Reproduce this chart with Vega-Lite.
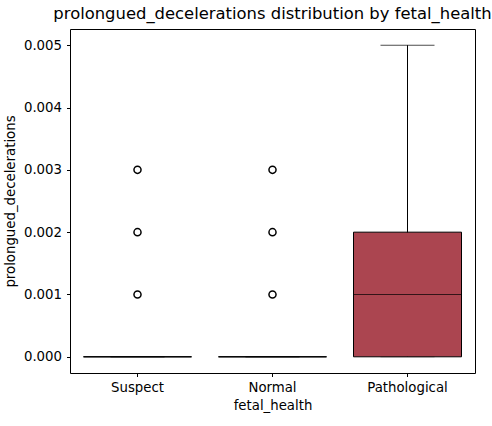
{
  "$schema": "https://vega.github.io/schema/vega-lite/v6.json",
  "width": 405,
  "height": 344,
  "autosize": {"type": "none"},
  "padding": {"left": 70, "top": 29, "right": 17, "bottom": 53},
  "background": "white",
  "title": {
    "text": "prolongued_decelerations distribution by fetal_health",
    "font": "DejaVu Sans",
    "fontSize": 16.4,
    "fontWeight": "normal",
    "color": "black",
    "anchor": "middle",
    "offset": 7
  },
  "config": {
    "view": {"stroke": "black", "strokeWidth": 1},
    "axis": {
      "labelFont": "DejaVu Sans",
      "labelFontSize": 13.3,
      "labelColor": "black",
      "titleFont": "DejaVu Sans",
      "titleFontSize": 13.3,
      "titleFontWeight": "normal",
      "titleColor": "black",
      "tickColor": "black",
      "tickSize": 3.5,
      "domain": false,
      "grid": false
    }
  },
  "datasets": {
    "stats": [
      {"fetal_health": "Suspect", "lower": 0, "q1": 0, "median": 0, "q3": 0, "upper": 0},
      {"fetal_health": "Normal", "lower": 0, "q1": 0, "median": 0, "q3": 0, "upper": 0},
      {"fetal_health": "Pathological", "lower": 0, "q1": 0, "median": 0.001, "q3": 0.002, "upper": 0.005}
    ],
    "outliers": [
      {"fetal_health": "Suspect", "value": 0.001},
      {"fetal_health": "Suspect", "value": 0.002},
      {"fetal_health": "Suspect", "value": 0.003},
      {"fetal_health": "Normal", "value": 0.001},
      {"fetal_health": "Normal", "value": 0.002},
      {"fetal_health": "Normal", "value": 0.003}
    ]
  },
  "layer": [
    {
      "data": {"name": "stats"},
      "mark": {"type": "rule", "color": "black", "strokeWidth": 1},
      "encoding": {
        "x": {"field": "fetal_health", "type": "nominal", "sort": ["Suspect", "Normal", "Pathological"],
              "scale": {"paddingInner": 0, "paddingOuter": 0},
              "axis": {"labelAngle": 0, "title": "fetal_health", "titlePadding": 5, "labelPadding": 3.5}},
        "y": {"field": "lower", "type": "quantitative",
              "scale": {"domain": [-0.00026, 0.00526], "nice": false, "zero": false},
              "axis": {"values": [0, 0.001, 0.002, 0.003, 0.004, 0.005], "format": ".3f", "title": "prolongued_decelerations", "titlePadding": 6, "labelPadding": 5}},
        "y2": {"field": "upper"}
      }
    },
    {
      "data": {"name": "stats"},
      "mark": {"type": "tick", "color": "black", "size": 54, "thickness": 1},
      "encoding": {
        "x": {"field": "fetal_health", "type": "nominal", "sort": ["Suspect", "Normal", "Pathological"]},
        "y": {"field": "upper", "type": "quantitative"}
      }
    },
    {
      "data": {"name": "stats"},
      "mark": {"type": "tick", "color": "#555555", "size": 54, "thickness": 1},
      "encoding": {
        "x": {"field": "fetal_health", "type": "nominal", "sort": ["Suspect", "Normal", "Pathological"]},
        "y": {"field": "lower", "type": "quantitative"}
      }
    },
    {
      "data": {"name": "stats"},
      "mark": {"type": "bar", "width": {"band": 0.8}, "stroke": "black", "strokeWidth": 1},
      "encoding": {
        "x": {"field": "fetal_health", "type": "nominal", "sort": ["Suspect", "Normal", "Pathological"]},
        "y": {"field": "q1", "type": "quantitative"},
        "y2": {"field": "q3"},
        "fill": {"field": "fetal_health", "type": "nominal", "legend": null,
                 "scale": {"domain": ["Suspect", "Normal", "Pathological"], "range": ["#e8a48c", "#e0b7a8", "#ab4550"]}}
      }
    },
    {
      "data": {"name": "stats"},
      "mark": {"type": "tick", "color": "black", "size": 108, "thickness": 1},
      "encoding": {
        "x": {"field": "fetal_health", "type": "nominal", "sort": ["Suspect", "Normal", "Pathological"]},
        "y": {"field": "median", "type": "quantitative"}
      }
    },
    {
      "data": {"name": "outliers"},
      "mark": {"type": "point", "shape": "circle", "filled": false, "stroke": "black", "strokeWidth": 1.5, "size": 50, "opacity": 1},
      "encoding": {
        "x": {"field": "fetal_health", "type": "nominal", "sort": ["Suspect", "Normal", "Pathological"]},
        "y": {"field": "value", "type": "quantitative"}
      }
    }
  ]
}
